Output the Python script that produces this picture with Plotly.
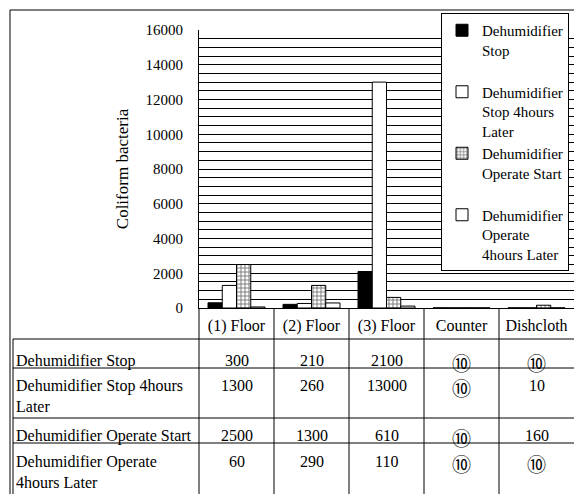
import plotly.graph_objects as go

# ---------------- data ----------------
categories = ["(1) Floor", "(2) Floor", "(3) Floor", "Counter", "Dishcloth"]

stop = [300, 210, 2100, 10, 10]
stop_4h = [1300, 260, 13000, 10, 10]
operate_start = [2500, 1300, 610, 10, 160]
operate_4h = [60, 290, 110, 10, 10]

# values below detection limit are shown circled (⑩) in the table
stop_circled = [False, False, False, True, True]
stop_4h_circled = [False, False, False, True, False]
operate_start_circled = [False, False, False, True, False]
operate_4h_circled = [False, False, False, True, True]

legend_labels = [
    "Dehumidifier<br>Stop<br> ",
    "Dehumidifier<br>Stop 4hours<br>Later",
    "Dehumidifier<br>Operate Start<br> ",
    "Dehumidifier<br>Operate<br>4hours Later",
]
row_labels = [
    "Dehumidifier Stop",
    "Dehumidifier Stop 4hours<br>Later",
    "Dehumidifier Operate Start",
    "Dehumidifier Operate<br>4hours Later",
]
y_tick_values = [0, 2000, 4000, 6000, 8000, 10000, 12000, 14000, 16000]
y_tick_labels = ["0", "2000", "4000", "6000", "8000", "10000", "12000", "14000", "16000"]
y_title = "Coliform bacteria"

# ---------------- layout geometry (pixels) ----------------
W, H = 574, 494
L, T, B = 199, 30, 186
PW, PH = W - L, H - T - B
FONT = "Liberation Serif, Times New Roman, serif"
CIRCLE_FONT = "Noto Sans CJK JP, Liberation Serif, serif"


def px(x):
    return (x - L) / PW


def py(y):
    return (H - B - y) / PH


series = [stop, stop_4h, operate_start, operate_4h]
circled = [stop_circled, stop_4h_circled, operate_start_circled, operate_4h_circled]

fig = go.Figure()
styles = [
    dict(color="black", line=dict(color="black", width=1)),
    dict(color="white", line=dict(color="black", width=1)),
    dict(color="white", line=dict(color="black", width=1),
         pattern=dict(shape="+", fgcolor="black", bgcolor="white", size=4, solidity=0.45)),
    dict(color="white", line=dict(color="black", width=1)),
]
for vals, name, st in zip(series, legend_labels, styles):
    fig.add_trace(go.Bar(x=categories, y=vals, name=name, marker=st))

shapes = []
line = dict(color="black", width=1)
# outer frame
shapes.append(dict(type="line", xref="paper", yref="paper", x0=px(10), x1=px(10), y0=py(10), y1=py(494), line=line))
shapes.append(dict(type="line", xref="paper", yref="paper", x0=px(10), x1=px(574), y0=py(10), y1=py(10), line=line))
# table horizontal lines
for yy in [339, 368, 418, 443]:
    shapes.append(dict(type="line", xref="paper", yref="paper", x0=px(13), x1=px(574), y0=py(yy), y1=py(yy), line=line))
# table verticals
shapes.append(dict(type="line", xref="paper", yref="paper", x0=px(13), x1=px(13), y0=py(339), y1=py(494), line=line))
shapes.append(dict(type="line", xref="paper", yref="paper", x0=0, x1=0, y0=py(308), y1=py(494), line=line))
for i in range(len(categories) - 1):
    shapes.append(dict(type="line", xref="x", yref="paper", x0=i + 0.5, x1=i + 0.5, y0=py(308), y1=py(494), line=line))

row_centers = [362, 387, 437, 463]
annotations = []
for r, (lab, vals, circ, yc) in enumerate(zip(row_labels, series, circled, row_centers)):
    annotations.append(dict(text=lab, xref="paper", yref="paper", x=px(14), y=py(yc - 12),
                            xanchor="left", yanchor="top", align="left", showarrow=False,
                            font=dict(family=FONT, size=16, color="black")))
    for c, (v, cc) in enumerate(zip(vals, circ)):
        if cc:
            annotations.append(dict(text="⑩", xref="x", yref="paper", x=categories[c],
                                    y=py(yc), xanchor="center", yanchor="middle", showarrow=False,
                                    font=dict(family=CIRCLE_FONT, size=19, color="black")))
        else:
            annotations.append(dict(text=str(v), xref="x", yref="paper", x=categories[c],
                                    y=py(yc - 12), xanchor="center", yanchor="top", showarrow=False,
                                    font=dict(family=FONT, size=16, color="black")))

fig.update_layout(
    width=W, height=H,
    margin=dict(l=L, r=0, t=T, b=B, autoexpand=False),
    paper_bgcolor="white", plot_bgcolor="white",
    barmode="group", bargap=0.24, bargroupgap=0,
    font=dict(family=FONT, size=16, color="black"),
    legend=dict(x=px(441), y=py(13), xanchor="left", yanchor="top",
                bgcolor="white", bordercolor="black", borderwidth=1,
                valign="top", font=dict(family=FONT, size=15, color="black"),
                tracegroupgap=0, maxheight=600),
    shapes=shapes, annotations=annotations,
)
fig.update_yaxes(range=[0, 16000], tickvals=y_tick_values, ticktext=y_tick_labels,
                 showgrid=True, gridcolor="black", gridwidth=1,
                 minor=dict(dtick=500, showgrid=True, gridcolor="black", gridwidth=1),
                 zeroline=False, showline=True, linecolor="black", linewidth=1,
                 ticks="", ticklabelstandoff=12, tickfont=dict(family=FONT, size=15),
                 title=dict(text=y_title, standoff=12, font=dict(family=FONT, size=17)))
fig.update_xaxes(showline=True, linecolor="black", linewidth=1, ticks="", ticklabelstandoff=3,
                 tickfont=dict(family=FONT, size=16), showgrid=False)

fig.write_html("out.html", config={"displayModeBar": False},
               post_script="document.body.style.margin='0';")
